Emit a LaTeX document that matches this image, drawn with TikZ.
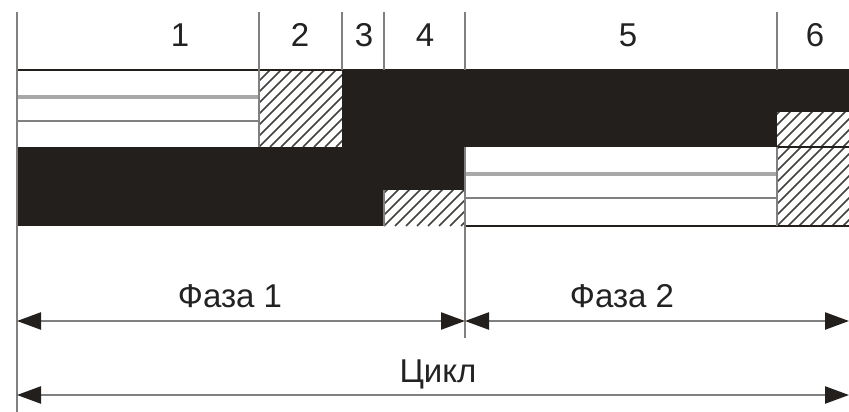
\documentclass[tikz,border=0pt]{standalone}
\usepackage{fontspec}
\setmainfont{Liberation Sans}
\usetikzlibrary{arrows.meta}

\definecolor{ink}{HTML}{221F1C}
\definecolor{rule}{HTML}{808080}
\definecolor{lightrule}{HTML}{A8A8A8}
\definecolor{txt}{HTML}{222222}

\tikzset{
  divider/.style={rule, line width=2.6pt},
  band/.style={fill=ink},
  edge/.style={ink, line width=2.6pt},
  stripe/.style={lightrule, line width=3.2pt},
  stripethin/.style={rule, line width=2pt},
  hatch/.style={ink!85, line width=1.6pt},
  span/.style={rule, line width=2.4pt,
    {Triangle[length=24pt,width=17pt,fill=ink,color=ink]}-{Triangle[length=24pt,width=17pt,fill=ink,color=ink]}},
  lbl/.style={text=txt, font=\fontsize{33}{36}\selectfont, inner sep=0pt},
}

% hatched rectangle: x0, ytop, x1, ybottom
\newcommand\hatchrect[4]{%
  \begin{scope}
    \clip (#1,#2) rectangle (#3,#4);
    \fill[white] (#1,#2) rectangle (#3,#4);
    \foreach \k in {-154,-143,...,160}
      \draw[hatch] (#1+\k,#4) -- ++(160,-160);
  \end{scope}}

\begin{document}
\begin{tikzpicture}[x=1pt,y=-1pt]
  \useasboundingbox (0,0) rectangle (849,412);

  % row 1 (upper band)
  \fill[white] (17,70) rectangle (259,147);
  \draw[stripe] (17,97) -- (259,97);
  \draw[stripethin] (17,121) -- (259,121);
  \hatchrect{259}{70}{342}{147}
  \fill[band] (342,70) rectangle (849,147);
  \hatchrect{777}{112}{849}{147}

  % row 2 (lower band)
  \fill[band] (17,147) rectangle (465,226);
  \hatchrect{384}{190}{465}{226}
  \fill[white] (465,147) rectangle (777,226);
  \draw[stripe] (465,174) -- (777,174);
  \draw[stripethin] (465,198) -- (777,198);
  \hatchrect{777}{147}{849}{226}

  % outlines of the bands
  \draw[edge] (17,70) -- (849,70);
  \draw[edge] (777,147) -- (849,147);
  \draw[edge] (465,226) -- (849,226);

  % dividers between intervals
  \draw[divider] (17,12) -- (17,412);
  \draw[divider] (259,12) -- (259,147);
  \draw[divider] (342,12) -- (342,70);
  \draw[divider] (384,12) -- (384,70);
  \draw[divider] (384,190) -- (384,226);
  \draw[divider] (465,12) -- (465,70);
  \draw[divider] (465,147) -- (465,338);
  \draw[divider] (777,12) -- (777,70);
  \draw[divider] (777,147) -- (777,226);

  % interval numbers
  \node[lbl] (n1) at (180,35) {1};
  \node[lbl] (n2) at (300,35) {2};
  \node[lbl] (n3) at (364,35) {3};
  \node[lbl] (n4) at (425,35) {4};
  \node[lbl] (n5) at (628,35) {5};
  \node[lbl] (n6) at (815,35) {6};

  % phase and cycle spans
  \coordinate (pl) at (17,321);
  \coordinate (pm) at (465,321);
  \coordinate (pr) at (849,321);
  \coordinate (cl) at (17,395);
  \coordinate (cr) at (849,395);
  \draw[span] (pl) -- (pm);
  \draw[span] (pm) -- (pr);
  \draw[span] (cl) -- (cr);

  \node[lbl] (f1) at (230,296) {Фаза 1};
  \node[lbl] (f2) at (622,296) {Фаза 2};
  \node[lbl] (cy) at (438,374) {Цикл};
\end{tikzpicture}
\end{document}
